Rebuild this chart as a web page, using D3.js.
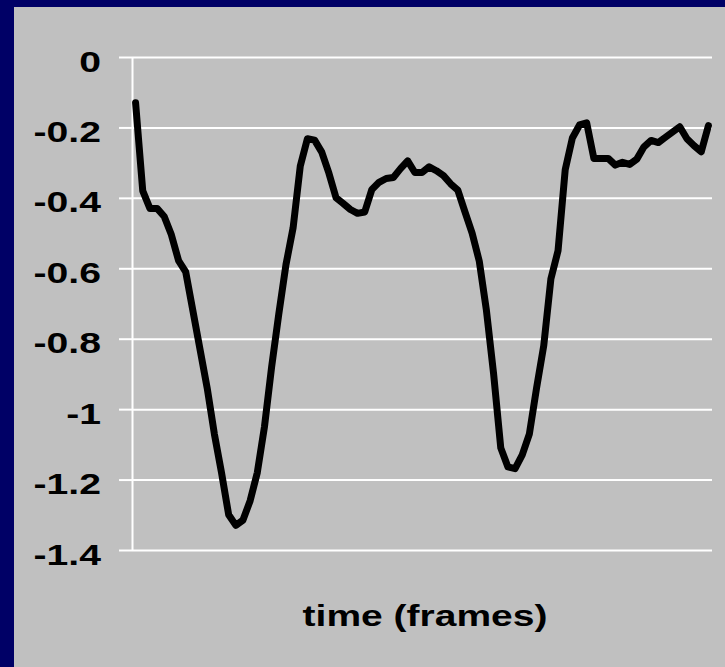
<!DOCTYPE html>
<html>
<head>
<meta charset="utf-8">
<script src="https://cdn.jsdelivr.net/npm/d3@7"></script>
<style>
  html, body { margin: 0; padding: 0; background: #000066; }
  svg { display: block; }
</style>
</head>
<body>
<svg id="chart" width="725" height="667"></svg>
<script>
// ---- data ----
const values = [
  -0.13, -0.38, -0.43, -0.43, -0.453, -0.505, -0.578, -0.61, -0.72, -0.83,
  -0.94, -1.07, -1.18, -1.30, -1.33, -1.315, -1.26, -1.18, -1.05, -0.88,
  -0.73, -0.59, -0.485, -0.31, -0.232, -0.236, -0.27, -0.33, -0.40, -0.416,
  -0.433, -0.444, -0.44, -0.376, -0.356, -0.345, -0.342, -0.317, -0.295, -0.328,
  -0.328, -0.312, -0.323, -0.337, -0.36, -0.378, -0.44, -0.50, -0.58, -0.72,
  -0.90, -1.11, -1.164, -1.169, -1.13, -1.07, -0.94, -0.82, -0.63, -0.55,
  -0.32, -0.23, -0.193, -0.187, -0.288, -0.288, -0.288, -0.307, -0.299, -0.305,
  -0.29, -0.255, -0.237, -0.243, -0.228, -0.213, -0.198, -0.232, -0.252, -0.269,
  -0.195
];
const frames = values.map((v, i) => i + 1);
const yTicks = [0, -0.2, -0.4, -0.6, -0.8, -1, -1.2, -1.4];
const yTickLabels = ["0", "-0.2", "-0.4", "-0.6", "-0.8", "-1", "-1.2", "-1.4"];
const xTitle = "time (frames)";

// ---- layout ----
const svg = d3.select("#chart");
const plot = { left: 132, right: 712, top: 57, bottom: 550 };

svg.append("rect")
  .attr("x", 14).attr("y", 7)
  .attr("width", 725 - 14).attr("height", 667 - 7)
  .attr("fill", "#c0c0c0");

const x = d3.scalePoint().domain(frames).range([plot.left, plot.right]).padding(0.5);
const y = d3.scaleLinear().domain([-1.4, 0]).range([plot.bottom, plot.top]);

// gridlines
const grid = svg.append("g")
  .attr("transform", `translate(${plot.left},0)`)
  .call(d3.axisLeft(y).tickValues(yTicks).tickSize(-(plot.right - plot.left)).tickFormat(""));
grid.select(".domain").remove();
grid.selectAll("line").attr("stroke", "#ffffff").attr("stroke-width", 2);

// axis with outer ticks and labels
const axis = svg.append("g")
  .attr("transform", `translate(${plot.left},0)`)
  .call(d3.axisLeft(y).tickValues(yTicks).tickSize(13).tickSizeOuter(0)
    .tickFormat((d, i) => yTickLabels[i]));
axis.select(".domain").attr("stroke", "#ffffff").attr("stroke-width", 2);
axis.selectAll(".tick line").attr("stroke", "#ffffff").attr("stroke-width", 2);
axis.selectAll(".tick text")
  .attr("x", null).attr("dy", null)
  .attr("transform", "translate(-31,14) scale(1.35,1)")
  .attr("text-anchor", "end")
  .attr("fill", "#000")
  .style("font-family", "'Liberation Sans', Arial, sans-serif")
  .style("font-weight", "bold")
  .style("font-size", "29px");

// line
const line = d3.line()
  .x((d, i) => x(frames[i]))
  .y(d => y(d));
svg.append("path")
  .datum(values)
  .attr("d", line)
  .attr("fill", "none")
  .attr("stroke", "#000")
  .attr("stroke-width", 7)
  .attr("stroke-linejoin", "round")
  .attr("stroke-linecap", "round");

// x title
svg.append("text")
  .attr("transform", `translate(${(plot.left + plot.right) / 2 + 3},626) scale(1.3,1)`)
  .attr("text-anchor", "middle")
  .attr("fill", "#000")
  .style("font-family", "'Liberation Sans', Arial, sans-serif")
  .style("font-weight", "bold")
  .style("font-size", "30px")
  .text(xTitle);
</script>
</body>
</html>
